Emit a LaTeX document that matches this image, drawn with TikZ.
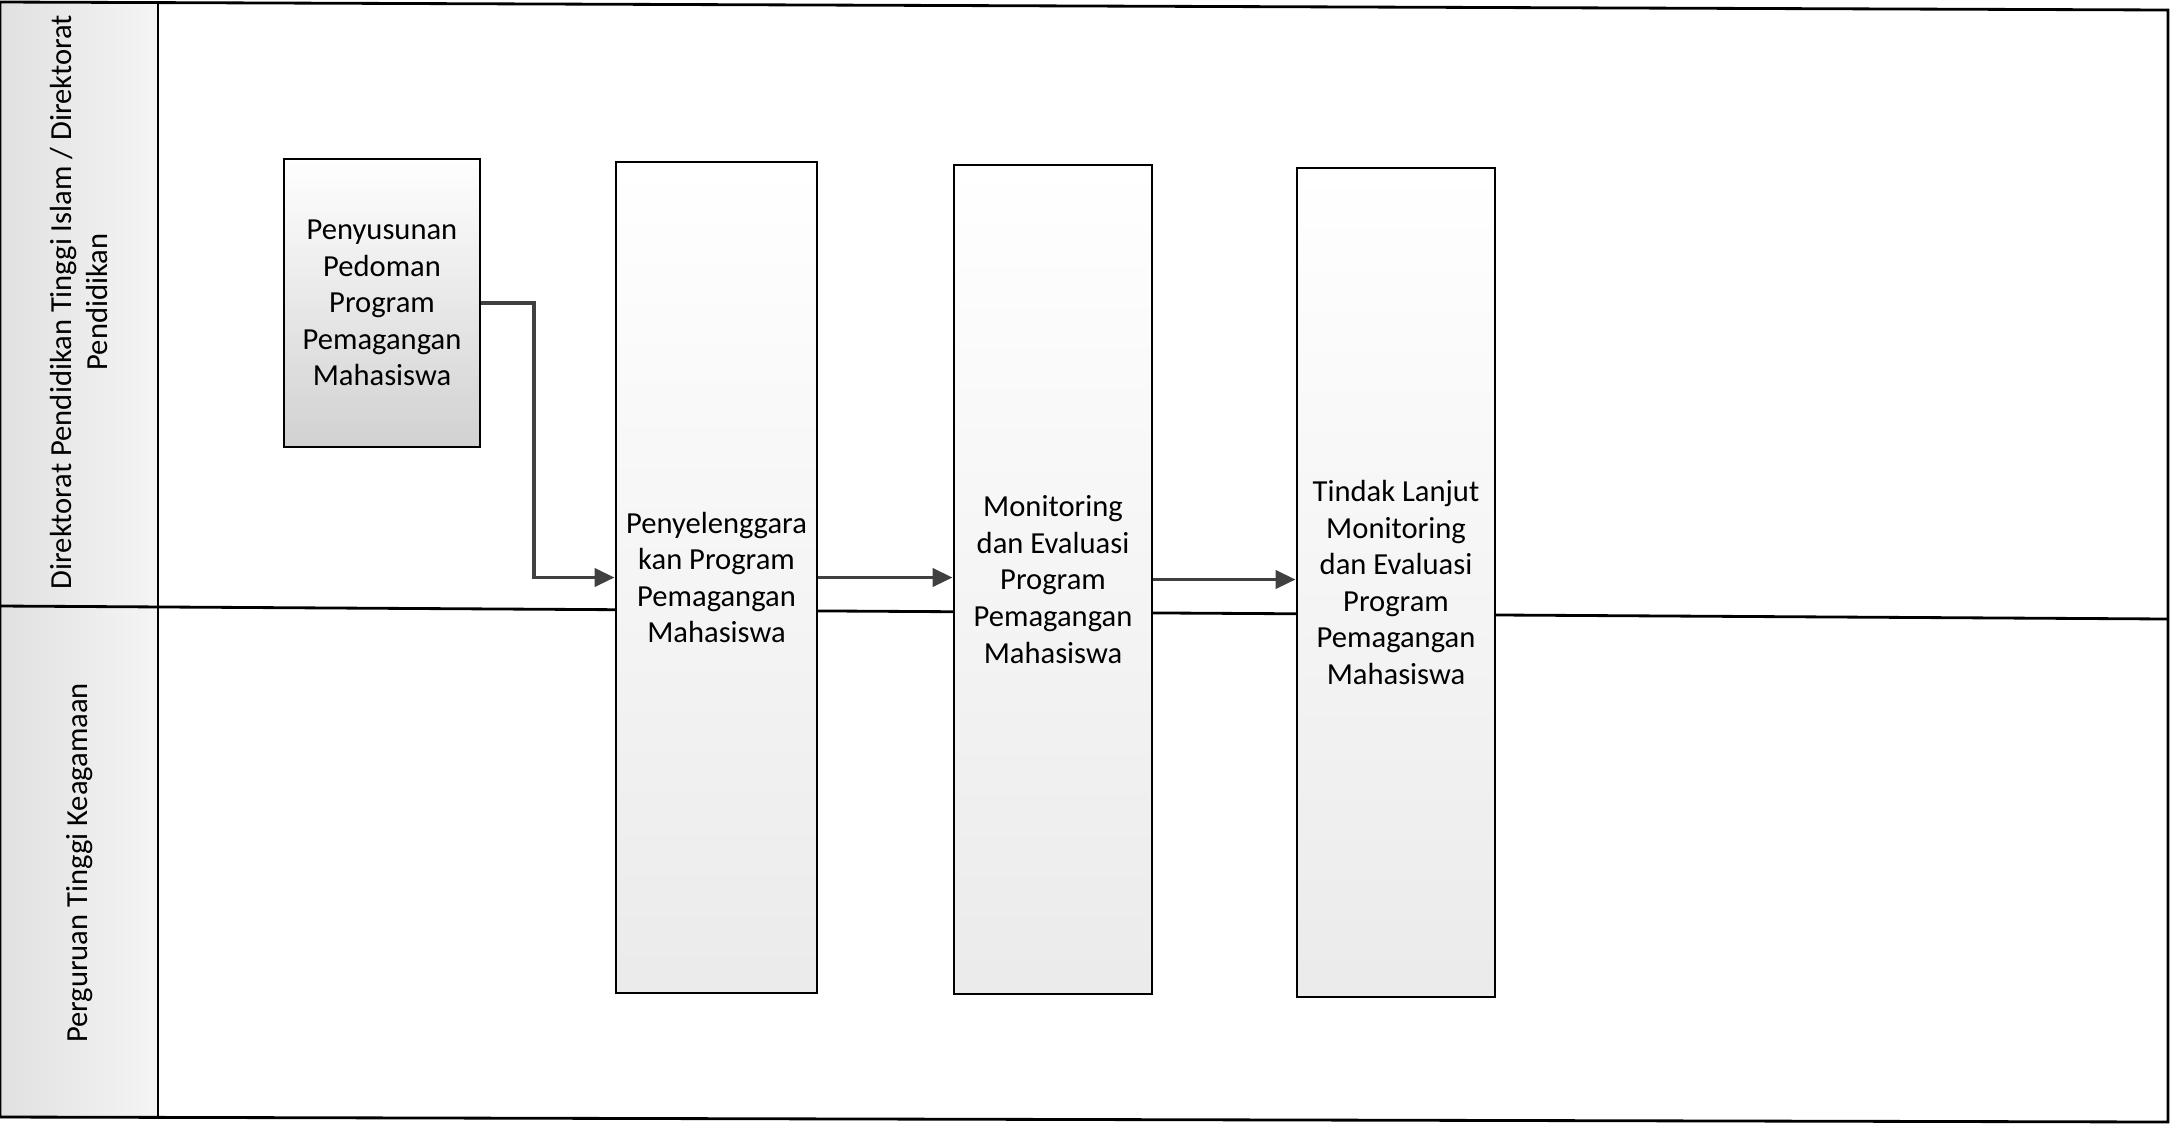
\documentclass[tikz,border=0pt]{standalone}
\usepackage{fontspec}
\setmainfont{Carlito}
\usetikzlibrary{arrows.meta,calc,positioning}
\tikzset{
  signal/.style={-{Triangle[length=2mm, width=1.8mm]}, line width=1.1pt, draw=black!75},
  proses/.style={draw=black, line width=0.8pt, rectangle, align=center, inner sep=1pt,
    font=\fontsize{8.7}{10.4}\selectfont, top color=white, bottom color=black!8},
  pedoman/.style={proses, bottom color=black!18},
  lane/.style={draw=black, line width=0.8pt},
  lanelabel/.style={rotate=90, align=center, font=\fontsize{8.7}{10.5}\selectfont}
}

\begin{document}
\begin{tikzpicture}
  \useasboundingbox (0,0) rectangle (21.71,-11.31);

  % swimlane frame
  \fill[left color=black!12, right color=black!4] (0,-0.02) rectangle (1.58,-11.18);
  \draw[lane] (0,-0.02) -- (21.68,-0.10) -- (21.68,-11.22) -- (0,-11.17) -- cycle;
  \draw[lane] (1.58,-0.03) -- (1.58,-11.17);
  \draw[lane] (0,-6.06) -- (21.68,-6.19);

  \node[lanelabel] (lane1) at (0.79,-3.02) {Direktorat Pendidikan Tinggi Islam / Direktorat\\Pendidikan};
  \node[lanelabel] (lane2) at (0.80,-8.63) {Perguruan Tinggi Keagamaan};

  % proses
  \node[pedoman, minimum width=1.96cm, minimum height=2.88cm] (pedoman) at (3.82,-3.03)
    {Penyusunan\\Pedoman\\Program\\Pemagangan\\Mahasiswa};
  \node[proses, minimum width=2.01cm, minimum height=8.31cm] (pelaksanaan) at (7.165,-5.775)
    {Penyelenggara\\kan Program\\Pemagangan\\Mahasiswa};
  \node[proses, minimum width=1.98cm, minimum height=8.29cm] (monev) at (10.53,-5.795)
    {Monitoring\\dan Evaluasi\\Program\\Pemagangan\\Mahasiswa};
  \node[proses, minimum width=1.98cm, minimum height=8.29cm] (tindaklanjut) at (13.96,-5.825)
    {Tindak Lanjut\\Monitoring\\dan Evaluasi\\Program\\Pemagangan\\Mahasiswa};

  % alur
  \draw[signal] (pedoman.east) -- ++(0.53,0) |- (pelaksanaan.west);
  \draw[signal] (pelaksanaan.east) -- (pelaksanaan.east -| monev.west);
  \draw[signal] (monev.east) -- (monev.east -| tindaklanjut.west);
\end{tikzpicture}
\end{document}
